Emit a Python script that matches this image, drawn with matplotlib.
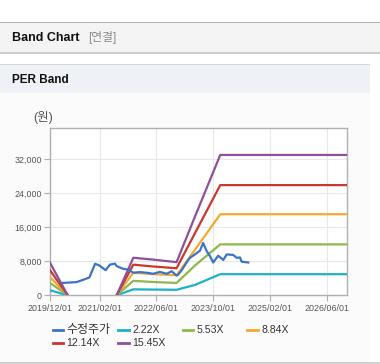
import matplotlib
matplotlib.use("Agg")
import matplotlib.pyplot as plt
import matplotlib.dates as mdates
from matplotlib.patches import Rectangle
from matplotlib.lines import Line2D
import numpy as np
import pandas as pd

plt.rcParams['font.family'] = ['Liberation Sans', 'Noto Sans CJK KR', 'DejaVu Sans']

# ---- data ----
price_dates = ["2020-03-16", "2020-07-16", "2020-09-27", "2020-11-03", "2020-12-22",
               "2021-01-28", "2021-03-22", "2021-04-28", "2021-06-10", "2021-06-25",
               "2021-08-21", "2021-10-03", "2021-11-15", "2022-01-12", "2022-03-10",
               "2022-05-04", "2022-07-01", "2022-08-28", "2022-10-10", "2022-11-21",
               "2022-12-03", "2023-01-07", "2023-02-10", "2023-03-15", "2023-04-28",
               "2023-06-10", "2023-07-07", "2023-08-06", "2023-09-04", "2023-10-01",
               "2023-11-13", "2023-12-27", "2024-01-25", "2024-03-20", "2024-04-20",
               "2024-05-18", "2024-06-01", "2024-07-28"]
price = [2900, 3100, 3800, 4200, 7400,
         7000, 5900, 7200, 7450, 6850,
         6200, 6050, 5300, 5450, 5300,
         5050, 5500, 5050, 5650, 4650,
         4800, 6000, 7500, 8800, 9600,
         10500, 12300, 10400, 9200, 7700,
         9300, 8300, 9600, 9500, 8800,
         8900, 7900, 7700]

band_dates = ["2019-12-01", "2020-05-01", "2020-12-01", "2021-06-25", "2021-11-15",
              "2022-04-20", "2022-11-21", "2023-04-28", "2023-12-01", "2026-12-01"]
band_2_22 = [1180, 0, np.nan, 0, 1400, 1350, 1300, 2440, 4960, 4960]
band_5_53 = [2900, 0, np.nan, 0, 3400, 3150, 2900, 7000, 11960, 11960]
band_8_84 = [4250, 0, np.nan, 0, 5300, 5000, 4700, 10700, 19040, 19040]
band_12_14 = [5900, 0, np.nan, 0, 7200, 6800, 6350, 14600, 25890, 25890]
band_15_45 = [7650, 0, np.nan, 0, 8820, 8420, 7790, 18500, 32970, 32970]

labels = ["수정주가", "2.22X", "5.53X", "8.84X", "12.14X", "15.45X"]
colors = ["#3b74c3", "#1db1c9", "#8db84b", "#f4a833", "#c9372f", "#8e4f9b"]

xtick_dates = ["2019-12-01", "2021-02-01", "2022-06-01", "2023-10-01", "2025-02-01", "2026-06-01"]
xtick_labels = ["2019/12/01", "2021/02/01", "2022/06/01", "2023/10/01", "2025/02/01", "2026/06/01"]
yticks = [0, 8000, 16000, 24000, 32000]
ytick_labels = ["0", "8,000", "16,000", "24,000", "32,000"]

# ---- figure ----
W, H = 380, 364
fig = plt.figure(figsize=(W / 100, H / 100), dpi=100)
fig.patch.set_facecolor("white")

def fx(px):
    return px / W

def fy(py):
    return 1 - py / H

def rect(x0, y0, x1, y1, color):
    fig.patches.append(Rectangle((fx(x0), fy(y1)), fx(x1) - fx(x0), fy(y0) - fy(y1),
                                 transform=fig.transFigure, facecolor=color,
                                 edgecolor="none", zorder=-10))

# header bars
rect(0, 21.5, W, 22.5, "#b4b4b4")
rect(0, 22.5, W, 52, "#f4f4f4")
rect(0, 52, W, 53.5, "#cdcdcd")
rect(0, 63.5, 370, 64.5, "#d6d6d6")
rect(0, 64.5, 370, 93, "#eef2f7")
rect(0, 93, 370, 362, "#fbfbfb")
rect(0, 362, W, 363.5, "#d0d0d0")

fig.text(fx(12), fy(38), "Band Chart", fontsize=9, fontweight="bold",
         color="#111111", va="center", ha="left")
fig.text(fx(88), fy(38), "[연결]", fontsize=8.5, color="#8a8a8a",
         va="center", ha="left")
fig.text(fx(12), fy(80), "PER Band", fontsize=8.5, fontweight="bold",
         color="#111111", va="center", ha="left")
fig.text(fx(33), fy(117), "(원)", fontsize=9, color="#555555",
         va="center", ha="left")

# axes
left, right, top, bottom = 50, 347.3, 128, 295.3
ax = fig.add_axes([fx(left), fy(bottom), fx(right) - fx(left), fy(top) - fy(bottom)])
ax.set_zorder(5)
ax.set_facecolor("white")

bd = pd.to_datetime(band_dates)
pdts = pd.to_datetime(price_dates)
bands = [band_2_22, band_5_53, band_8_84, band_12_14, band_15_45]
for vals, c in zip(bands, colors[1:]):
    ax.plot(bd, vals, color=c, lw=1.6, solid_joinstyle="round", zorder=3)
ax.plot(pdts, price, color=colors[0], lw=1.6, solid_joinstyle="round", zorder=4)

ax.set_xlim(pd.Timestamp("2019-12-01"), pd.Timestamp("2026-11-25"))
ax.set_ylim(0, 39300)
ax.set_xticks(pd.to_datetime(xtick_dates))
ax.set_xticklabels(xtick_labels)
ax.set_yticks(yticks)
ax.set_yticklabels(ytick_labels)
ax.tick_params(axis="both", labelsize=6.4, labelcolor="#555555", color="#b0b0b0",
               length=4, width=0.8, pad=2)
ax.grid(True, color="#e8e8e8", lw=0.8, zorder=0)
ax.set_axisbelow(True)
for s in ax.spines.values():
    s.set_color("#b0b0b0")
    s.set_linewidth(1.0)

# legend (manual)
legend_pos = [(52.7, 330), (118.3, 330), (182.7, 330), (247.3, 330),
              (52.7, 343.3), (118.3, 343.3)]
for (lx, ly), lab, c in zip(legend_pos, labels, colors):
    fig.lines.append(Line2D([fx(lx), fx(lx + 10.5)], [fy(ly), fy(ly)],
                            transform=fig.transFigure, color=c, lw=2.0, zorder=6))
    fs = 8.6 if not lab[0].isdigit() else 7.6
    fig.text(fx(lx + 14), fy(ly), lab, fontsize=fs, color="#333333",
             va="center", ha="left")

fig.savefig("out.png", dpi=100, facecolor="white")
